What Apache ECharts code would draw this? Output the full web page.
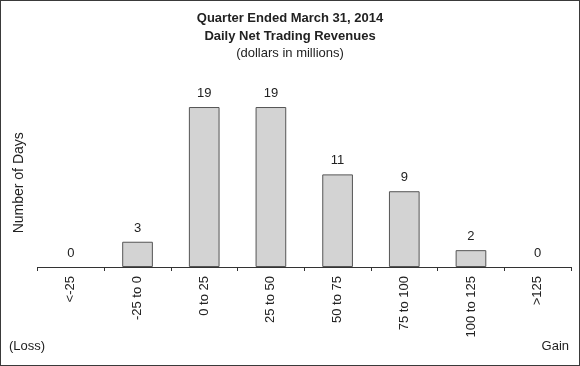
<!DOCTYPE html>
<html><head><meta charset="utf-8">
<script src="https://cdn.jsdelivr.net/npm/echarts@6/dist/echarts.min.js"></script>
<style>html,body{margin:0;padding:0;background:#fff}#c{width:580px;height:366px;box-sizing:border-box;border:1px solid #3a3a3a}</style>
</head><body><div id="c"></div>
<script>
var categories = ['<-25', '-25 to 0', '0 to 25', '25 to 50', '50 to 75', '75 to 100', '100 to 125', '>125'];
var days = [0, 3, 19, 19, 11, 9, 2, 0];
var titleLines = ['Quarter Ended March 31, 2014', 'Daily Net Trading Revenues'];
var subtitle = '(dollars in millions)';
var yName = 'Number of Days';
var font = 'Liberation Sans, Arial, sans-serif';
var barData = days.map(function (v) {
  return v === 0 ? {value: v, itemStyle: {borderWidth: 0, color: 'rgba(0,0,0,0)'}} : v;
});
var chart = echarts.init(document.getElementById('c'), null, {renderer: 'canvas'});
chart.setOption({
  animation: false,
  title: [
    {text: titleLines.join('\n'), left: 'center', top: 3, textStyle: {fontFamily: font, fontSize: 13, fontWeight: 'bold', color: '#222', lineHeight: 18}},
    {text: subtitle, left: 'center', top: 41, textStyle: {fontFamily: font, fontSize: 13, fontWeight: 'normal', color: '#222'}}
  ],
  grid: {left: 36.5, right: 8, top: 97.6, bottom: 98, containLabel: false},
  xAxis: {
    type: 'category', data: categories,
    axisLine: {lineStyle: {color: '#333', width: 1}},
    axisTick: {show: true, length: 4, lineStyle: {color: '#333'}},
    axisLabel: {rotate: 90, margin: 9, fontFamily: font, fontSize: 13, color: '#222', interval: 0}
  },
  yAxis: {
    type: 'value', min: 0, max: 20,
    axisLine: {show: false}, axisTick: {show: false}, axisLabel: {show: false}, splitLine: {show: false},
    name: yName, nameLocation: 'middle', nameGap: 11, nameRotate: 90,
    nameTextStyle: {fontFamily: font, fontSize: 14, color: '#222'}
  },
  series: [{
    type: 'bar', data: barData, barWidth: '46%',
    itemStyle: {color: '#d3d3d3', borderColor: '#555', borderWidth: 1},
    label: {show: true, position: 'top', distance: 7, fontFamily: font, fontSize: 13, color: '#222'}
  }],
  graphic: [
    {type: 'text', left: 8, top: 339, style: {text: '(Loss)', font: '13px ' + font, fill: '#222'}},
    {type: 'text', right: 10, top: 339, style: {text: 'Gain', font: '13px ' + font, fill: '#222'}}
  ]
});
</script></body></html>
